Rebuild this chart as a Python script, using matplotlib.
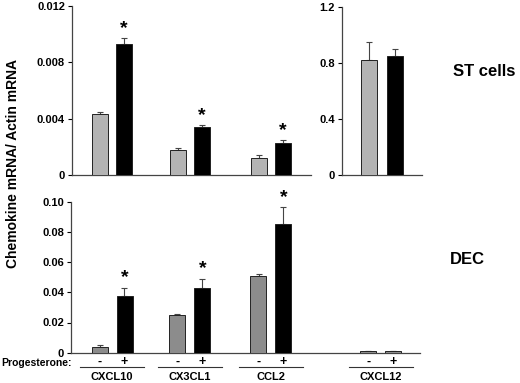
import matplotlib
matplotlib.use("Agg")
import matplotlib.pyplot as plt
from matplotlib.transforms import blended_transform_factory

plt.rcParams.update({"font.family": ["Liberation Sans", "DejaVu Sans"], "font.weight": "bold",
                     "axes.spines.top": False, "axes.spines.right": False})

genes = ["CXCL10", "CX3CL1", "CCL2", "CXCL12"]

# ST cells (top row); CXCL12 is on its own scale
st_minus = [0.0043, 0.0018, 0.0012]
st_minus_err = [0.0002, 0.00015, 0.0002]
st_plus = [0.0093, 0.0034, 0.0023]
st_plus_err = [0.0004, 0.00015, 0.00015]
st_sig = [True, True, True]
st12_minus, st12_minus_err = 0.82, 0.13
st12_plus, st12_plus_err = 0.845, 0.055

# DEC (bottom row)
dec_minus = [0.004, 0.025, 0.051, 0.0012]
dec_minus_err = [0.001, 0.0008, 0.0013, 0.0]
dec_plus = [0.0375, 0.043, 0.085, 0.0012]
dec_plus_err = [0.0055, 0.006, 0.0115, 0.0]
dec_sig = [True, True, True, False]

LIGHT, DARK, BLACK = "#b4b4b4", "#8c8c8c", "#000000"
W, H = 520, 383
fig = plt.figure(figsize=(W / 100, H / 100), dpi=100)


def axes_px(x0, x1, y0, y1):
    return fig.add_axes([x0 / W, 1 - y1 / H, (x1 - x0) / W, (y1 - y0) / H])


def style(ax, ticks, labels, top):
    ax.set_ylim(0, top)
    ax.set_yticks(ticks); ax.set_yticklabels(labels, fontsize=8, fontweight="bold")
    ax.tick_params(axis="y", length=3, width=0.8, pad=2, direction="out")
    ax.tick_params(axis="x", length=0, labelbottom=False)
    for s in ("left", "bottom"):
        ax.spines[s].set_linewidth(0.9); ax.spines[s].set_color("#444444")


def bars(ax, xs, vals, errs, color, sig=None):
    ax.bar(xs, vals, 16, color=color, edgecolor="#222222", lw=0.7, zorder=3)
    ax.errorbar(xs, vals, yerr=[[0] * len(vals), errs], fmt="none", ecolor="#444444",
                elinewidth=0.8, capsize=2.5, capthick=0.8, zorder=2)
    if sig:
        for x, v, e, s in zip(xs, vals, errs, sig):
            if s:
                ax.annotate("*", (x, v + e), xytext=(0, 1), textcoords="offset points",
                            ha="center", va="bottom", fontsize=14, fontweight="bold")


# top-left: ST cells
ax1 = axes_px(72, 311, 6, 175)
ax1.set_xlim(0, 239)
c1 = [40, 118, 199]
bars(ax1, [c - 12 for c in c1], st_minus, st_minus_err, LIGHT)
bars(ax1, [c + 12 for c in c1], st_plus, st_plus_err, BLACK, st_sig)
style(ax1, [0, 0.004, 0.008, 0.012], ["0", "0.004", "0.008", "0.012"], 0.012)

# top-right: ST cells CXCL12
ax2 = axes_px(342, 422, 6.7, 175)
ax2.set_xlim(0, 80)
bars(ax2, [26.5], [st12_minus], [st12_minus_err], LIGHT)
bars(ax2, [52.5], [st12_plus], [st12_plus_err], BLACK)
style(ax2, [0, 0.4, 0.8, 1.2], ["0", "0.4", "0.8", "1.2"], 1.2)

# bottom: DEC
ax3 = axes_px(71, 420, 201.7, 352.7)
ax3.set_xlim(0, 349)
c3 = [41, 119, 200, 310]
plus_colors = [BLACK, BLACK, BLACK, DARK]
bars(ax3, [c - 12.5 for c in c3], dec_minus, dec_minus_err, DARK)
bars(ax3, [c + 12.5 for c in c3], dec_plus, dec_plus_err, plus_colors, dec_sig)
style(ax3, [0, 0.02, 0.04, 0.06, 0.08, 0.10], ["0", "0.02", "0.04", "0.06", "0.08", "0.10"], 0.10)

# treatment row and gene names under the bottom panel
tr = blended_transform_factory(ax3.transData, fig.transFigure)
for c, g in zip(c3, genes):
    ax3.text(c - 12.5, 1 - 362 / H, "-", transform=tr, ha="center", va="center", fontsize=9, fontweight="bold")
    ax3.text(c + 12.5, 1 - 362 / H, "+", transform=tr, ha="center", va="center", fontsize=9, fontweight="bold")
    ax3.plot([c - 32, c + 32], [1 - 367 / H] * 2, transform=tr, color="#333333", lw=0.8, clip_on=False)
    ax3.text(c, 1 - 377.5 / H, g, transform=tr, ha="center", va="center", fontsize=8, fontweight="bold")
fig.text(72 / W, 1 - 362.5 / H, "Progesterone:", ha="right", va="center", fontsize=7.5, fontweight="bold")

fig.text(453 / W, 1 - 72 / H, "ST cells", ha="left", va="center", fontsize=12, fontweight="bold")
fig.text(450 / W, 1 - 259 / H, "DEC", ha="left", va="center", fontsize=12, fontweight="bold")
fig.text(13 / W, 1 - 164 / H, "Chemokine mRNA/ Actin mRNA", rotation=90, ha="center", va="center",
         fontsize=10, fontweight="bold")

fig.savefig("out.png", dpi=100)
